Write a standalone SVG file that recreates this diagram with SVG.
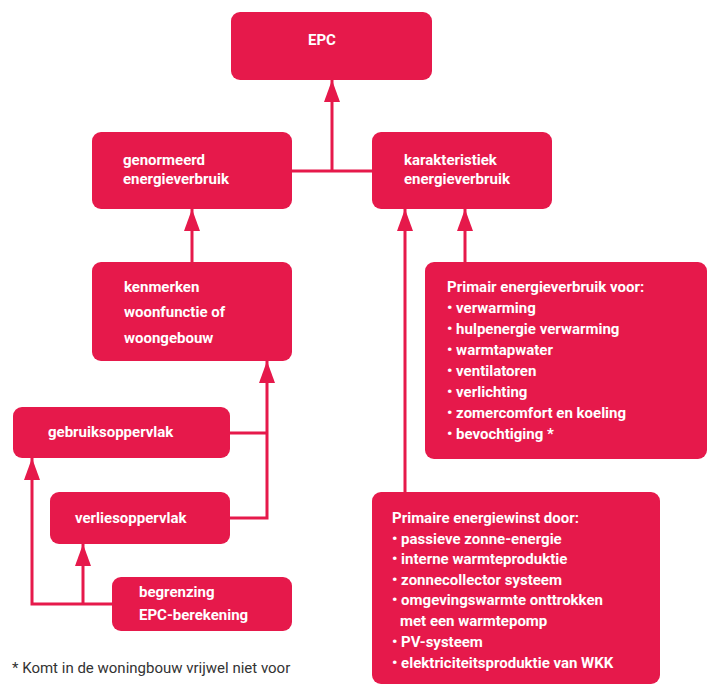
<svg xmlns="http://www.w3.org/2000/svg" width="712" height="686" viewBox="0 0 712 686">
<style>
.box{fill:#E6194B;}
.t{font-family:Roboto,"Liberation Sans",sans-serif;font-weight:700;font-size:15px;fill:#ffffff;}
.c{fill:none;stroke:#E6194B;stroke-width:3;}
.note{font-family:Roboto,"Liberation Sans",sans-serif;font-size:15px;fill:#333333;}
</style>
<defs>
<marker id="ah" markerUnits="userSpaceOnUse" markerWidth="22" markerHeight="16" viewBox="0 0 22 16" refX="22" refY="8" orient="auto">
<path d="M0,0 L22,8 L0,16 Z" fill="#E6194B"/>
</marker>
</defs>
<rect width="712" height="686" fill="#ffffff"/>
<g id="connectors">
<path class="c" d="M292,171 H372"/>
<path class="c" d="M332,171 V80" marker-end="url(#ah)"/>
<path class="c" d="M192,262 V209" marker-end="url(#ah)"/>
<path class="c" d="M405,492 V209" marker-end="url(#ah)"/>
<path class="c" d="M465,262 V209" marker-end="url(#ah)"/>
<path class="c" d="M230,518 H267 V361" marker-end="url(#ah)"/>
<path class="c" d="M230,433 H267"/>
<path class="c" d="M112,604 H32 V458" marker-end="url(#ah)"/>
<path class="c" d="M83,604 V544" marker-end="url(#ah)"/>
</g>
<g id="epc">
<rect class="box" x="231" y="12" width="201" height="68" rx="9"/>
<text class="t" x="308" y="45">EPC</text>
</g>
<g id="genormeerd">
<rect class="box" x="92" y="132" width="200" height="77" rx="9"/>
<text class="t" x="123" y="165">genormeerd</text>
<text class="t" x="123" y="184">energieverbruik</text>
</g>
<g id="karakteristiek">
<rect class="box" x="372" y="132" width="180" height="77" rx="9"/>
<text class="t" x="404" y="165">karakteristiek</text>
<text class="t" x="404" y="184">energieverbruik</text>
</g>
<g id="kenmerken">
<rect class="box" x="92" y="262" width="200" height="99" rx="9"/>
<text class="t" x="124" y="292">kenmerken</text>
<text class="t" x="124" y="317">woonfunctie of</text>
<text class="t" x="124" y="343">woongebouw</text>
</g>
<g id="gebruiksoppervlak">
<rect class="box" x="13" y="407" width="217" height="51" rx="9"/>
<text class="t" x="48" y="437">gebruiksoppervlak</text>
</g>
<g id="verliesoppervlak">
<rect class="box" x="50" y="492" width="180" height="52" rx="9"/>
<text class="t" x="75" y="523">verliesoppervlak</text>
</g>
<g id="begrenzing">
<rect class="box" x="112" y="577" width="180" height="54" rx="9"/>
<text class="t" x="139" y="597">begrenzing</text>
<text class="t" x="139" y="620">EPC-berekening</text>
</g>
<g id="primair-verbruik">
<rect class="box" x="425" y="262" width="282" height="197" rx="9"/>
<text class="t" x="447" y="292">Primair energieverbruik voor:</text>
<text class="t" x="447" y="313">• verwarming</text>
<text class="t" x="447" y="334">• hulpenergie verwarming</text>
<text class="t" x="447" y="355">• warmtapwater</text>
<text class="t" x="447" y="376">• ventilatoren</text>
<text class="t" x="447" y="397">• verlichting</text>
<text class="t" x="447" y="418">• zomercomfort en koeling</text>
<text class="t" x="447" y="439">• bevochtiging *</text>
</g>
<g id="primaire-winst">
<rect class="box" x="372" y="492" width="288" height="192" rx="9"/>
<text class="t" x="392" y="523">Primaire energiewinst door:</text>
<text class="t" x="392" y="544">• passieve zonne-energie</text>
<text class="t" x="392" y="564">• interne warmteproduktie</text>
<text class="t" x="392" y="585">• zonnecollector systeem</text>
<text class="t" x="392" y="605">• omgevingswarmte onttrokken</text>
<text class="t" x="400" y="626">met een warmtepomp</text>
<text class="t" x="392" y="647">• PV-systeem</text>
<text class="t" x="392" y="668">• elektriciteitsproduktie van WKK</text>
</g>
<g id="footnote">
<text class="note" x="12" y="673">* Komt in de woningbouw vrijwel niet voor</text>
</g>
</svg>
